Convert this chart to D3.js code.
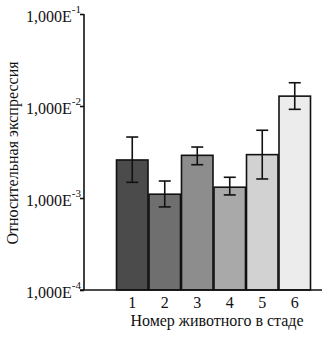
<!DOCTYPE html>
<html><head><meta charset="utf-8">
<script src="https://cdn.jsdelivr.net/npm/d3@7"></script>
<style>body{margin:0;background:#fff}svg{display:block}</style>
</head><body>
<script>
const categories = ["1","2","3","4","5","6"];
const values = [2.59e-3, 1.10e-3, 2.91e-3, 1.31e-3, 2.96e-3, 1.28e-2];
const errHigh = [4.60e-3, 1.53e-3, 3.58e-3, 1.68e-3, 5.45e-3, 1.79e-2];
const errLow = [1.48e-3, 8.0e-4, 2.30e-3, 1.08e-3, 1.61e-3, 9.2e-3];
const fills = ["#4b4b4b", "#6f6f6f", "#8d8d8d", "#a9a9a9", "#d2d2d2", "#ececec"];
const yTicks = [1e-1, 1e-2, 1e-3, 1e-4];
const yTickExp = ["-1", "-2", "-3", "-4"];
const xTitle = "Номер животного в стаде";
const yTitle = "Относительная экспрессия";

const FONT = "'Liberation Serif', 'Times New Roman', 'DejaVu Serif', serif";
const W = 325, H = 337;
const svg = d3.select("body").append("svg").attr("width", W).attr("height", H)
  .style("font-family", FONT);
const y = d3.scaleLog().domain([1e-4, 1e-1]).range([290, 14]);
const x = d3.scaleBand().domain(categories).range([116, 311]).padding(0);

// bars
svg.selectAll("rect.bar").data(values).join("rect")
  .attr("x", (d, i) => x(categories[i]) + 0.5)
  .attr("y", d => y(d))
  .attr("width", x.bandwidth() - 1)
  .attr("height", d => 290 - y(d))
  .attr("fill", (d, i) => fills[i])
  .attr("stroke", "#111").attr("stroke-width", 1.6);

// error bars
const eg = svg.append("g").attr("stroke", "#111").attr("stroke-width", 1.6);
values.forEach((v, i) => {
  const cx = x(categories[i]) + x.bandwidth() / 2;
  eg.append("line").attr("x1", cx).attr("x2", cx).attr("y1", y(errHigh[i])).attr("y2", y(errLow[i]));
  eg.append("line").attr("x1", cx - 6).attr("x2", cx + 6).attr("y1", y(errHigh[i])).attr("y2", y(errHigh[i]));
  eg.append("line").attr("x1", cx - 6).attr("x2", cx + 6).attr("y1", y(errLow[i])).attr("y2", y(errLow[i]));
});

// y axis
const yAxis = d3.axisLeft(y).tickValues(yTicks).tickSize(4).tickFormat("");
const ya = svg.append("g").attr("transform", "translate(84,0)").call(yAxis).attr("font-family", null);
ya.select(".domain").attr("stroke", "#111").attr("stroke-width", 1.6).attr("d", "M0,14V290");
ya.selectAll(".tick line").attr("stroke", "#111").attr("stroke-width", 1.6);
ya.selectAll(".tick").each(function(d, i) {
  const t = d3.select(this).append("text").attr("x", -3).attr("y", 7)
    .attr("text-anchor", "end").attr("fill", "#111")
    .style("font-family", FONT).style("font-size", "16px");
  t.append("tspan").text("1,000E");
  t.append("tspan").attr("dy", -9).style("font-size", "11px").text(yTickExp[i]);
});

// x axis
const xAxis = d3.axisBottom(x).tickSize(0).tickPadding(6);
const xa = svg.append("g").attr("transform", "translate(0,290)").call(xAxis).attr("font-family", null);
xa.select(".domain").attr("stroke", "#111").attr("stroke-width", 1.6).attr("d", "M80,0H322");
xa.selectAll(".tick text").attr("y", 18).attr("dy", 0).attr("fill", "#111")
  .style("font-family", FONT).style("font-size", "16px");

svg.append("text").attr("x", 217).attr("y", 326).attr("text-anchor", "middle").attr("fill", "#111")
  .style("font-family", FONT).style("font-size", "16px").text(xTitle);
svg.append("text").attr("transform", "translate(18,153) rotate(-90)").attr("text-anchor", "middle").attr("fill", "#111")
  .style("font-family", FONT).style("font-size", "16px").text(yTitle);
</script>
</body></html>
